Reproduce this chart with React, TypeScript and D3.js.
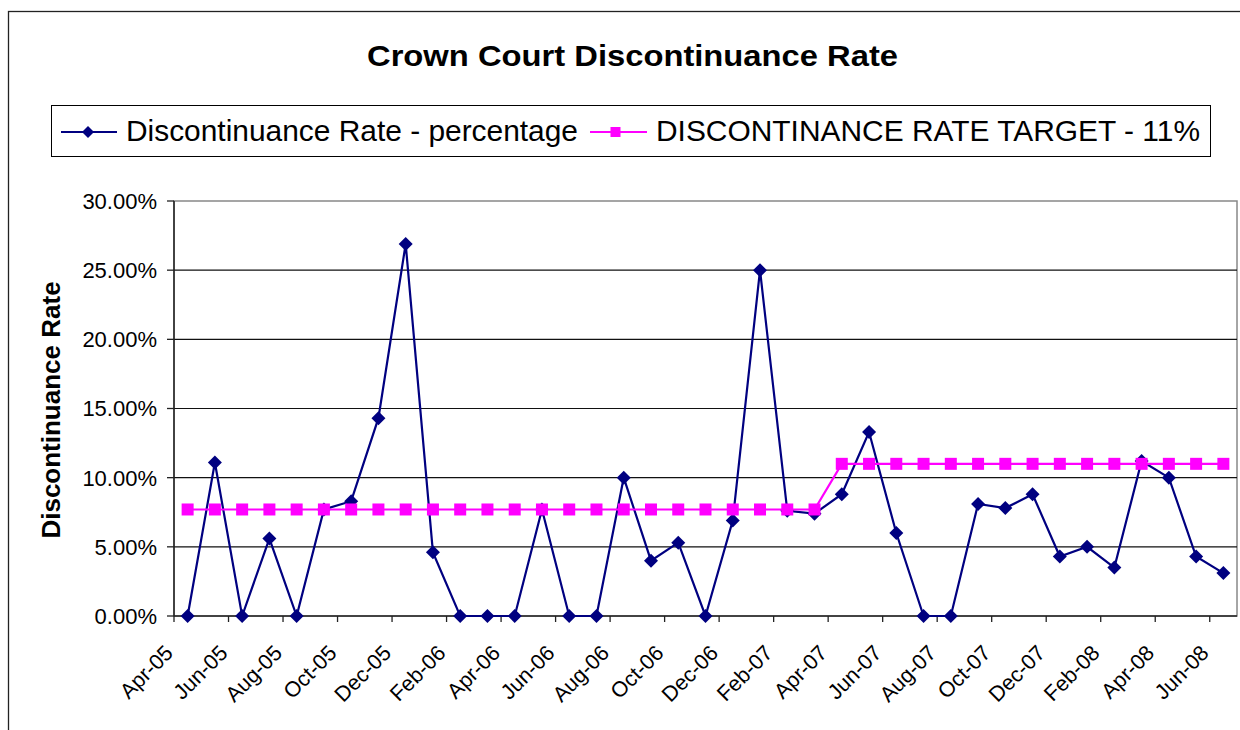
import * as React from 'react';
import * as d3 from 'd3';

const months = [
  'Apr-05', 'May-05', 'Jun-05', 'Jul-05', 'Aug-05', 'Sep-05', 'Oct-05', 'Nov-05', 'Dec-05', 'Jan-06',
  'Feb-06', 'Mar-06', 'Apr-06', 'May-06', 'Jun-06', 'Jul-06', 'Aug-06', 'Sep-06', 'Oct-06', 'Nov-06',
  'Dec-06', 'Jan-07', 'Feb-07', 'Mar-07', 'Apr-07', 'May-07', 'Jun-07', 'Jul-07', 'Aug-07', 'Sep-07',
  'Oct-07', 'Nov-07', 'Dec-07', 'Jan-08', 'Feb-08', 'Mar-08', 'Apr-08', 'May-08', 'Jun-08',
];

// discontinuance rate, % per month
const rates = [
  0, 11.1, 0, 5.6, 0, 7.7, 8.3, 14.3, 26.9, 4.6,
  0, 0, 0, 7.7, 0, 0, 10.0, 4.0, 5.3, 0,
  6.9, 25.0, 7.6, 7.4, 8.8, 13.3, 6.0, 0, 0, 8.1,
  7.8, 8.8, 4.3, 5.0, 3.5, 11.2, 10.0, 4.3, 3.1,
];

// target, % per month
const target = [
  7.7, 7.7, 7.7, 7.7, 7.7, 7.7, 7.7, 7.7, 7.7, 7.7,
  7.7, 7.7, 7.7, 7.7, 7.7, 7.7, 7.7, 7.7, 7.7, 7.7,
  7.7, 7.7, 7.7, 7.7, 11, 11, 11, 11, 11, 11,
  11, 11, 11, 11, 11, 11, 11, 11, 11,
];

const tickLabels = months.filter((_, i) => i % 2 === 0);
const yTicks = [0, 5, 10, 15, 20, 25, 30];

const seriesNames = ['Discontinuance Rate - percentage', 'DISCONTINANCE RATE TARGET - 11%'];

const FONT = '"Liberation Sans", Arial, sans-serif';
const NAVY = '#000080';
const PINK = '#FF00FF';

export default function App() {
  const left = 174;
  const right = 1237;
  const top = 201;
  const bottom = 616;

  const x = d3.scaleBand<string>().domain(months).range([left, right]).padding(0);
  const cx = (m: string) => (x(m) as number) + x.bandwidth() / 2;
  const y = d3.scaleLinear().domain([0, 30]).range([bottom, top]);

  const rateLine = d3.line<number>()
    .x((_, i) => cx(months[i]))
    .y(d => y(d));
  const targetLine = d3.line<number>()
    .x((_, i) => cx(months[i]))
    .y(d => y(d));

  const diamond = (px: number, py: number, r: number) =>
    `M${px},${py - r}L${px + r},${py}L${px},${py + r}L${px - r},${py}Z`;

  return (
    <svg width={1240} height={730} style={{ position: 'absolute', left: 0, top: 0, background: '#fff' }}>
      {/* chart frame */}
      <rect x={8.5} y={11.5} width={1260} height={740} fill="#fff" stroke="#222" strokeWidth={1.3} />

      <text x={632.5} y={66} textAnchor="middle" fontFamily={FONT} fontWeight="bold" fontSize={29.5}
        textLength={531} lengthAdjust="spacingAndGlyphs">
        Crown Court Discontinuance Rate
      </text>

      {/* legend */}
      <rect x={51.5} y={105.5} width={1159} height={51} fill="#fff" stroke="#000" strokeWidth={1} />
      <line x1={61} x2={117} y1={132} y2={132} stroke={NAVY} strokeWidth={2} />
      <path d={diamond(88, 132, 6)} fill={NAVY} />
      <text x={126} y={141} fontFamily={FONT} fontSize={29} textLength={452} lengthAdjust="spacingAndGlyphs">
        {seriesNames[0]}
      </text>
      <line x1={590} x2={647} y1={132} y2={132} stroke={PINK} strokeWidth={2} />
      <rect x={610.5} y={127} width={10} height={10} fill={PINK} />
      <text x={656} y={141} fontFamily={FONT} fontSize={29} textLength={544} lengthAdjust="spacingAndGlyphs">
        {seriesNames[1]}
      </text>

      {/* plot area */}
      <rect x={left} y={top} width={right - left} height={bottom - top} fill="#fff" stroke="#888" strokeWidth={1.5} />
      {yTicks.filter(t => t > 0 && t < 30).map(t => (
        <line key={t} x1={left} x2={right} y1={y(t)} y2={y(t)} stroke="#111" strokeWidth={1.2} />
      ))}

      {/* y axis */}
      <line x1={left} x2={left} y1={top} y2={bottom} stroke="#222" strokeWidth={1.5} />
      {yTicks.map(t => (
        <g key={t}>
          <line x1={left - 7} x2={left} y1={y(t)} y2={y(t)} stroke="#222" strokeWidth={1.3} />
          <text x={157} y={y(t)} dy="0.36em" textAnchor="end" fontFamily={FONT} fontSize={22}>
            {d3.format('.2f')(t)}%
          </text>
        </g>
      ))}
      <text transform="translate(60,410) rotate(-90)" textAnchor="middle" fontFamily={FONT}
        fontWeight="bold" fontSize={26}>
        Discontinuance Rate
      </text>

      {/* x axis */}
      <line x1={left} x2={right} y1={bottom} y2={bottom} stroke="#222" strokeWidth={1.5} />
      {tickLabels.map(m => (
        <g key={m}>
          <line x1={x(m)} x2={x(m)} y1={bottom} y2={bottom + 6} stroke="#222" strokeWidth={1.3} />
          <text transform={`translate(${(x(m) as number) - 5},${bottom + 33}) rotate(-45)`} dy="0.35em"
            textAnchor="end" fontFamily={FONT} fontSize={21.5}>
            {m}
          </text>
        </g>
      ))}

      {/* series */}
      <path d={rateLine(rates) ?? ''} fill="none" stroke={NAVY} strokeWidth={2.2} />
      {rates.map((v, i) => (
        <path key={i} d={diamond(cx(months[i]), y(v), 7)} fill={NAVY} />
      ))}
      <path d={targetLine(target) ?? ''} fill="none" stroke={PINK} strokeWidth={2.2} />
      {target.map((v, i) => (
        <rect key={i} x={cx(months[i]) - 6} y={y(v) - 6} width={12} height={12} fill={PINK} />
      ))}
    </svg>
  );
}
